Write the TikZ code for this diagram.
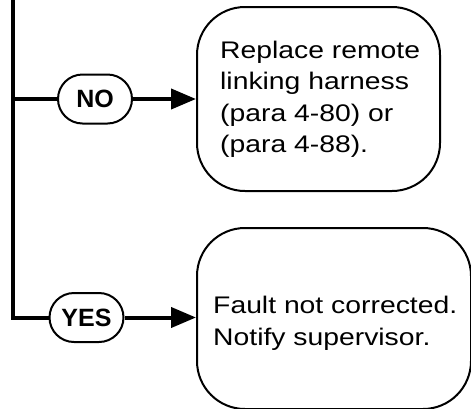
\documentclass[tikz,border=0pt]{standalone}
\usepackage{fontspec}
\setmainfont{Liberation Sans}
\newfontfamily\boxfont{Liberation Sans}[FakeStretch=1.18]
\newfontfamily\pillfont{Liberation Sans}
\usetikzlibrary{shapes.misc,arrows.meta}
\begin{document}
\begin{tikzpicture}[x=1pt,y=-1pt,
  conn/.style={line width=4pt},
  arr/.style={conn,-{Triangle[length=25pt,width=20pt]}},
  pill/.style={rounded rectangle, draw, line width=2pt, minimum width=74pt,
    minimum height=49pt, inner sep=0pt,
    font=\pillfont\bfseries\fontsize{25}{25}\selectfont},
  box/.style={draw, line width=2pt, rounded corners=48pt, inner sep=0pt},
  txt/.style={anchor=base west, inner sep=0pt, align=left,
    font=\boxfont\fontsize{24}{31.5}\selectfont}]
\useasboundingbox (0,0) rectangle (471,408);
% boxes
\node[box, minimum width=243pt, minimum height=184pt] (b1) at (318.5,99) {};
\node[box, minimum width=274pt, minimum height=181pt] (b2) at (334,318.5) {};
\node[txt] (t1) at (220,152.5) {Replace remote\\linking harness\\(para 4-80) or\\(para 4-88).};
\node[txt] (t2) at (213,345) {Fault not corrected.\\Notify supervisor.};
% pills
\node[pill] (no) at (95,99) {NO};
\node[pill] (yes) at (86.5,317.5) {YES};
% connectors
\coordinate (top) at (13,-3);
\coordinate (junc) at (13,99);
\coordinate (corner) at (13,317.5);
\draw[conn, line join=miter] (top) -- (corner) -- (yes.west);
\draw[conn] (junc) -- (no.west);
\draw[arr] (no.east) -- (b1.west |- no.east);
\draw[arr] (yes.east) -- (b2.west |- yes.east);
\end{tikzpicture}
\end{document}
